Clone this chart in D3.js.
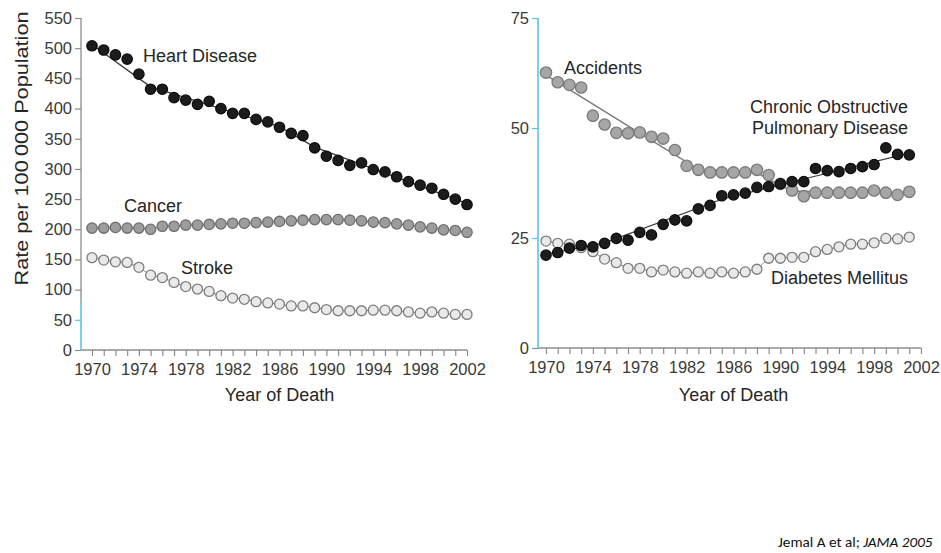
<!DOCTYPE html>
<html>
<head>
<meta charset="utf-8">
<script src="https://cdn.jsdelivr.net/npm/d3@7"></script>
<style>
  html, body { margin: 0; padding: 0; background: #fff; }
  svg { display: block; font-family: "Liberation Sans", Arial, Helvetica, sans-serif; }
  .tick text { fill: #3a3a3a; }
</style>
</head>
<body>
<svg id="chart" width="941" height="553"></svg>
<script>
// Years of death
const yearsA = [1970,1971,1972,1973,1974,1975,1976,1977,1978,1979,1980,1981,1982,1983,1984,1985,1986,
                1987,1988,1989,1990,1991,1992,1993,1994,1995,1996,1997,1998,1999,2000,2001,2002];
const yearsB = yearsA.slice(0, 32);
const yearTicks = [1970,1974,1978,1982,1986,1990,1994,1998,2002];

// Death rates per 100 000 population (left panel)
const heartDisease = [504,497,489,482,457,432,432,418,414,407,412,400,392,392,382,378,369,
                      359,355,335,321,314,306,310,299,295,287,279,273,268,258,250,241];
const cancer = [202,202,203,202,202,200,205,205,207,207,208,209,210,210,211,212,213,
                214,215,216,216,216,215,214,212,211,209,207,204,202,199,198,195];
const stroke = [153,149,146,145,137,124,120,112,105,101,97,90,86,84,80,78,76,
                73,73,70,67,65,65,65,66,66,65,63,61,63,61,59,59];

// Death rates per 100 000 population (right panel)
const accidents = [62.6,60.4,59.8,59.2,52.8,50.8,48.9,48.8,49.0,48.0,47.6,45.0,41.4,40.5,39.9,39.9,
                   39.9,39.9,40.5,39.3,37.3,35.8,34.5,35.3,35.3,35.3,35.3,35.3,35.8,35.3,34.8,35.5];
const copd = [21.1,21.7,22.7,23.3,23.0,23.8,24.9,24.5,26.3,25.7,28.1,29.1,28.9,31.6,32.4,34.6,
              34.8,35.2,36.5,36.7,37.3,37.8,37.8,40.8,40.3,40.1,40.8,41.2,41.7,45.5,44.0,43.9];
const diabetes = [24.3,23.8,23.6,22.8,21.9,20.2,19.4,18.1,18.1,17.3,17.7,17.3,17.0,17.3,17.0,17.3,
                  17.0,17.3,17.9,20.4,20.4,20.6,20.6,21.9,22.4,23.0,23.6,23.6,23.9,24.9,24.8,25.2];

// Fitted trend segments (joinpoints)
const heartTrendYears = [1970,1975,1986,1989,2002];
const heartTrend = [506,436,370,336,243];
const accTrendYears = [1970,1983,1988,1991,2001];
const accTrend = [62,40.6,39.8,35.6,35.3];
const copdTrendYears = [1970,1975,1985,1992,2001];
const copdTrend = [21.3,23.9,33.8,38.4,44.3];

const leftTicks = [0,50,100,150,200,250,300,350,400,450,500,550];
const rightTicks = [0,25,50,75];

const svg = d3.select("#chart");
const AXIS = "#8c8c8c", BLUE = "#5cc3ea", TEXT = "#262626";

const styles = {
  black: { fill: "#1c1c1c", stroke: "#0e0e0e", r: 5.2 },
  gray:  { fill: "#9d9d9d", stroke: "#6e6e6e", r: 5.2 },
  open:  { fill: "#e9e9e9", stroke: "#7d7d7d", r: 5.0 },
  acc:   { fill: "#a6a6a6", stroke: "#7a7a7a", r: 5.7 }
};

function panel(cfg) {
  const g = svg.append("g");
  const x = d3.scaleLinear().domain([1970, 2002]).range(cfg.xRange);
  const y = d3.scaleLinear().domain(cfg.yDomain).range(cfg.yRange);

  // x axis: a tick for every year, labels every fourth year
  const xAxis = g.append("g")
    .attr("transform", `translate(0,${cfg.yRange[0]})`)
    .call(d3.axisBottom(x).tickValues(yearsA).tickSize(6).tickPadding(7)
      .tickFormat(d => yearTicks.includes(d) ? d : ""));
  xAxis.select(".domain").remove();
  xAxis.selectAll(".tick line").attr("stroke", AXIS).attr("stroke-width", 1.2);
  xAxis.selectAll(".tick text").attr("font-size", 16.5).attr("font-family", "Liberation Sans, Arial, sans-serif");
  g.append("line")
    .attr("x1", cfg.axisX).attr("x2", x(2002))
    .attr("y1", cfg.yRange[0]).attr("y2", cfg.yRange[0])
    .attr("stroke", AXIS).attr("stroke-width", 1.3);

  // y axis
  const yAxis = g.append("g")
    .attr("transform", `translate(${cfg.axisX},0)`)
    .call(d3.axisLeft(y).tickValues(cfg.yTicks).tickSize(6).tickPadding(3));
  yAxis.select(".domain").remove();
  yAxis.selectAll(".tick text").attr("font-size", 16.5).attr("font-family", "Liberation Sans, Arial, sans-serif");
  yAxis.selectAll(".tick line").attr("stroke", d => d > 0 && d <= cfg.blueTo ? BLUE : AXIS).attr("stroke-width", 1.2);
  g.append("line")
    .attr("x1", cfg.axisX).attr("x2", cfg.axisX)
    .attr("y1", y(cfg.yDomain[1])).attr("y2", y(cfg.blueTo))
    .attr("stroke", AXIS).attr("stroke-width", 1.3);
  g.append("line")
    .attr("x1", cfg.axisX).attr("x2", cfg.axisX)
    .attr("y1", y(cfg.blueTo)).attr("y2", y(0))
    .attr("stroke", BLUE).attr("stroke-width", 1.6);

  g.append("text")
    .attr("x", (cfg.xRange[0] + cfg.xRange[1]) / 2).attr("y", 401)
    .attr("text-anchor", "middle").attr("font-size", 18).attr("fill", TEXT)
    .text("Year of Death");

  const line = d3.line().x(d => x(d[0])).y(d => y(d[1]));

  cfg.series.forEach(s => {
    const pts = s.years.map((yr, i) => [yr, s.values[i]]);
    const trend = s.trendYears ? s.trendYears.map((yr, i) => [yr, s.trend[i]]) : pts;
    g.append("path").datum(trend)
      .attr("d", line).attr("fill", "none")
      .attr("stroke", s.lineColor).attr("stroke-width", s.lineWidth);
    const st = styles[s.style];
    g.append("g").selectAll("circle").data(pts).join("circle")
      .attr("cx", d => x(d[0])).attr("cy", d => y(d[1])).attr("r", st.r)
      .attr("fill", st.fill).attr("stroke", st.stroke).attr("stroke-width", 1.3);
  });

  cfg.labels.forEach(l => {
    g.append("text").attr("x", l.x).attr("y", l.y)
      .attr("text-anchor", l.anchor || "start").attr("font-size", 18).attr("fill", TEXT)
      .text(l.text);
  });
  return g;
}

panel({
  xRange: [92, 467], yDomain: [0, 550], yRange: [350, 18], axisX: 81, yTicks: leftTicks, blueTo: 78,
  series: [
    { years: yearsA, values: stroke, style: "open", lineColor: "#8a8a8a", lineWidth: 1 },
    { years: yearsA, values: cancer, style: "gray", lineColor: "#6e6e6e", lineWidth: 1 },
    { years: yearsA, values: heartDisease, style: "black", lineColor: "#3a3a3a", lineWidth: 1.3,
      trendYears: heartTrendYears, trend: heartTrend }
  ],
  labels: [
    { text: "Heart Disease", x: 143, y: 62 },
    { text: "Cancer", x: 124, y: 212 },
    { text: "Stroke", x: 181, y: 274 }
  ]
});

panel({
  xRange: [546, 921], yDomain: [0, 75], yRange: [348, 18], axisX: 538, yTicks: rightTicks, blueTo: 75,
  series: [
    { years: yearsB, values: diabetes, style: "open", lineColor: "#8a8a8a", lineWidth: 1 },
    { years: yearsB, values: accidents, style: "acc", lineColor: "#7a7a7a", lineWidth: 1.5,
      trendYears: accTrendYears, trend: accTrend },
    { years: yearsB, values: copd, style: "black", lineColor: "#3a3a3a", lineWidth: 1.2,
      trendYears: copdTrendYears, trend: copdTrend }
  ],
  labels: [
    { text: "Accidents", x: 564, y: 74 },
    { text: "Chronic Obstructive", x: 908, y: 113, anchor: "end" },
    { text: "Pulmonary Disease", x: 908, y: 134, anchor: "end" },
    { text: "Diabetes Mellitus", x: 908, y: 284, anchor: "end" }
  ]
});

// y-axis title for the left panel
svg.append("text")
  .attr("transform", "translate(28,148.5) rotate(-90)")
  .attr("text-anchor", "middle").attr("font-size", 18).attr("fill", TEXT)
  .attr("textLength", 274).attr("lengthAdjust", "spacingAndGlyphs")
  .text("Rate per 100\u2009000 Population");

// source note
const src = svg.append("text").attr("x", 778).attr("y", 547)
  .attr("font-size", 15.2).attr("fill", "#111")
  .attr("font-family", "Carlito, 'Liberation Sans', Arial, sans-serif");
src.append("tspan").text("Jemal A et al; ");
src.append("tspan").attr("font-style", "italic").text("JAMA 2005");
</script>
</body>
</html>
